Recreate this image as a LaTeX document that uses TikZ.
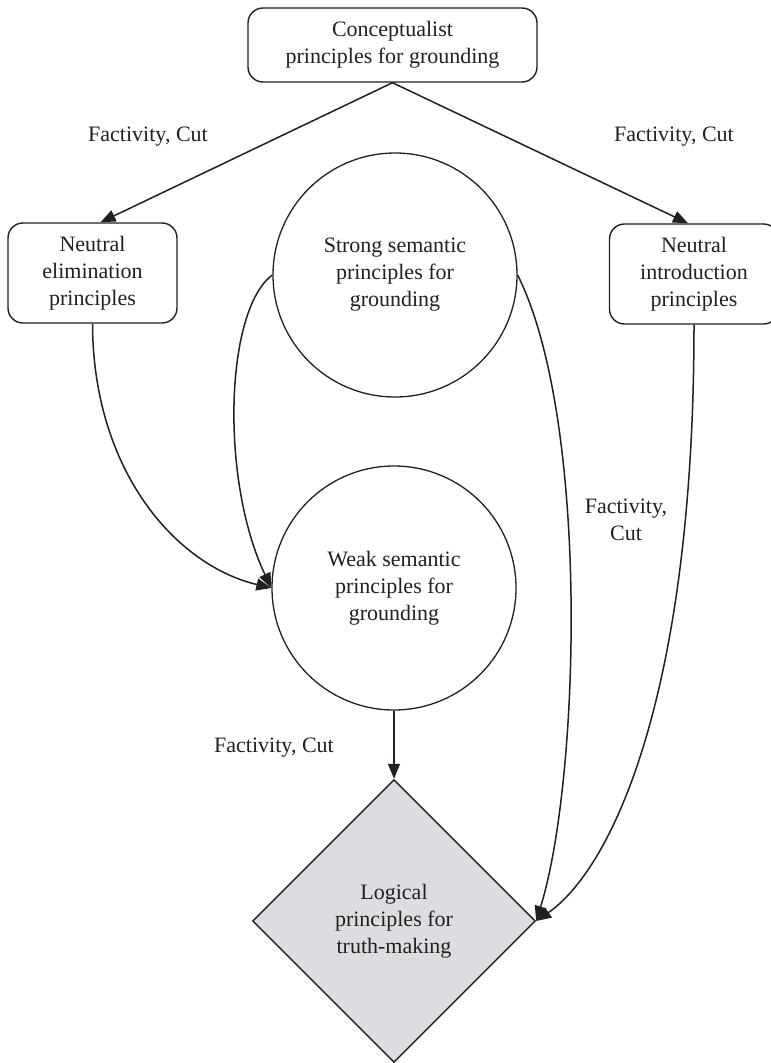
\documentclass[tikz,border=0pt]{standalone}
\usepackage{fontspec}
\setmainfont{Liberation Serif}
\usetikzlibrary{arrows.meta,shapes.geometric}
\definecolor{ink}{RGB}{35,31,32}
\definecolor{diafill}{RGB}{220,221,224}
\begin{document}
\begin{tikzpicture}[x=1pt,y=-1pt,
  every node/.style={font=\fontsize{22}{27}\selectfont, text=ink},
  rbox/.style={draw=ink, line width=1.4pt, rounded corners=15pt, align=center, inner sep=0pt},
  circ/.style={draw=ink, line width=1.3pt, circle, minimum size=244pt, inner sep=0pt, align=center},
  arr/.style={draw=ink, line width=1.5pt, -{Triangle[length=15pt,width=12pt]}},
  lbl/.style={align=center, inner sep=0pt}]
\useasboundingbox (0,0) rectangle (771,1063);
\node[rbox, minimum width=289pt, minimum height=74pt] (top) at (392.5,45) {Conceptualist\\principles for grounding};
\node[rbox, minimum width=169pt, minimum height=100pt] (nel) at (92.5,273) {Neutral\\elimination\\principles};
\node[rbox, minimum width=169pt, minimum height=100pt] (nin) at (694,274) {Neutral\\introduction\\principles};
\node[circ] (strong) at (395,275) {Strong semantic\\principles for\\grounding};
\node[circ] (weak) at (394,588) {Weak semantic\\principles for\\grounding};
\node[diamond, draw=ink, fill=diafill, line width=1.4pt, minimum width=283pt, minimum height=283pt, inner sep=0pt, align=center] (logic) at (394,921) {Logical\\principles for\\truth-making};
\draw[arr] (top.south) -- ([xshift=8pt]nel.north);
\draw[arr] (top.south) -- ([xshift=-6pt]nin.north);
\draw[arr] (nel.south) .. controls (93,470) and (175,565) .. (weak.west);
\draw[arr] (strong.west) .. controls (225,310) and (220,480) .. (weak.west);
\draw[arr] (strong.east) .. controls (590,420) and (580,780) .. (logic.east);
\draw[arr] (nin.south) .. controls (694,700) and (610,870) .. (logic.east);
\draw[arr] (weak.south) -- (logic.north);
\node[lbl] (l1) at (148,137) {Factivity, Cut};
\node[lbl] (l2) at (674,137) {Factivity, Cut};
\node[lbl] (l3) at (626,520) {Factivity,\\Cut};
\node[lbl] (l4) at (274,748) {Factivity, Cut};
\end{tikzpicture}
\end{document}
